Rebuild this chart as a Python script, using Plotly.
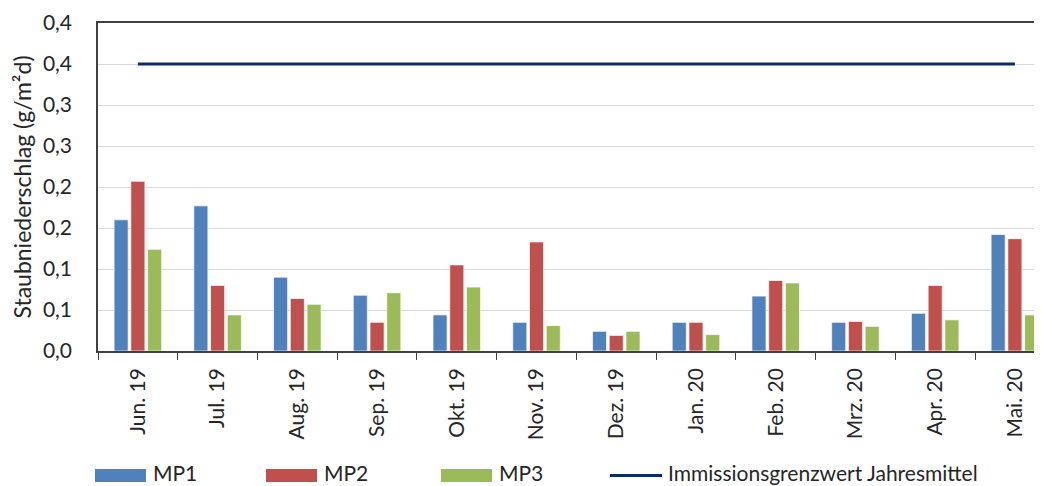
import plotly.graph_objects as go

# Data
months = ["Jun. 19", "Jul. 19", "Aug. 19", "Sep. 19", "Okt. 19", "Nov. 19",
          "Dez. 19", "Jan. 20", "Feb. 20", "Mrz. 20", "Apr. 20", "Mai. 20"]
mp1 = [0.160, 0.177, 0.090, 0.068, 0.044, 0.035, 0.024, 0.035, 0.067, 0.035, 0.046, 0.142]
mp2 = [0.207, 0.080, 0.064, 0.035, 0.105, 0.133, 0.019, 0.035, 0.086, 0.036, 0.080, 0.137]
mp3 = [0.124, 0.044, 0.057, 0.071, 0.078, 0.031, 0.024, 0.020, 0.083, 0.030, 0.038, 0.044]
limit_value = 0.35
limit_name = "Immissionsgrenzwert Jahresmittel"

y_tickvals = [0.0, 0.05, 0.10, 0.15, 0.20, 0.25, 0.30, 0.35, 0.40]
y_ticktext = ["0,0", "0,1", "0,1", "0,2", "0,2", "0,3", "0,3", "0,4", "0,4"]

series = [("MP1", mp1, "#4F81BD"), ("MP2", mp2, "#C0504D"), ("MP3", mp3, "#9BBB59")]
line_color = "#0B2A6B"

# page has an 8px body margin, so the figure is a bit smaller than the window
OFF = 8
W, H = 1042 - OFF, 486 - OFF
L, R, T, B = 98 - OFF, 0, 23 - OFF, 486 - 351
FONT = "Lato"
TXT = "#262626"

fig = go.Figure()
for name, vals, col in series:
    fig.add_trace(go.Bar(x=months, y=vals, name=name, marker_color=col,
                         marker_line=dict(color="rgba(255,255,255,0.7)", width=1)))

fig.add_trace(go.Scatter(x=months, y=[limit_value] * len(months), mode="lines",
                         name=limit_name, line=dict(color=line_color, width=3)))

# x range so the plot runs off the right edge like the original
fig.update_xaxes(range=[-0.5, 11.34], automargin=False,
                 showline=True, linecolor="#404040", linewidth=1.5,
                 mirror=True, ticks="outside", tickson="boundaries", ticklen=7,
                 tickcolor="#404040", tickangle=-90, ticklabelstandoff=7,
                 tickfont=dict(family=FONT, size=21, color=TXT), showgrid=False)
fig.update_yaxes(range=[0, 0.4], tickvals=y_tickvals, ticktext=y_ticktext,
                 automargin=False,
                 showline=True, linecolor="#404040", linewidth=1.5,
                 showgrid=True, gridcolor="#D9D9D9", gridwidth=1,
                 ticklabelstandoff=20, zeroline=False,
                 tickfont=dict(family=FONT, size=21, color=TXT),
                 title=dict(text="Staubniederschlag (g/m²d)", standoff=8,
                            font=dict(family=FONT, size=23, color=TXT)))

# legend drawn by hand to get the wide Excel-style swatches (page pixel positions)
pw, ph = W - L - R, H - T - B
def px_x(p):
    return (p - OFF - L) / pw
def px_y(p):
    return (H - B - (p - OFF)) / ph

leg_x = [95, 266, 441, 610]
leg_items = [(n, c, "bar") for n, _, c in series] + [(limit_name, line_color, "line")]
for (name, col, kind), x0 in zip(leg_items, leg_x):
    if kind == "bar":
        fig.add_shape(type="rect", xref="paper", yref="paper",
                      x0=px_x(x0), x1=px_x(x0 + 51), y0=px_y(482), y1=px_y(469),
                      fillcolor=col, line=dict(width=0))
    else:
        fig.add_shape(type="line", xref="paper", yref="paper",
                      x0=px_x(x0), x1=px_x(x0 + 52), y0=px_y(475.5), y1=px_y(475.5),
                      line=dict(color=col, width=3))
    fig.add_annotation(text=name, xref="paper", yref="paper", showarrow=False,
                       x=px_x(x0 + 56), y=px_y(472.5), xanchor="left", yanchor="middle",
                       font=dict(family=FONT, size=21, color=TXT))

fig.update_layout(width=W, height=H, margin=dict(l=L, r=R, t=T, b=B, autoexpand=False),
                  barmode="group", bargap=0.37, bargroupgap=0.16,
                  showlegend=False, plot_bgcolor="white", paper_bgcolor="white",
                  font=dict(family=FONT, color=TXT))

fig.write_html("out.html")
